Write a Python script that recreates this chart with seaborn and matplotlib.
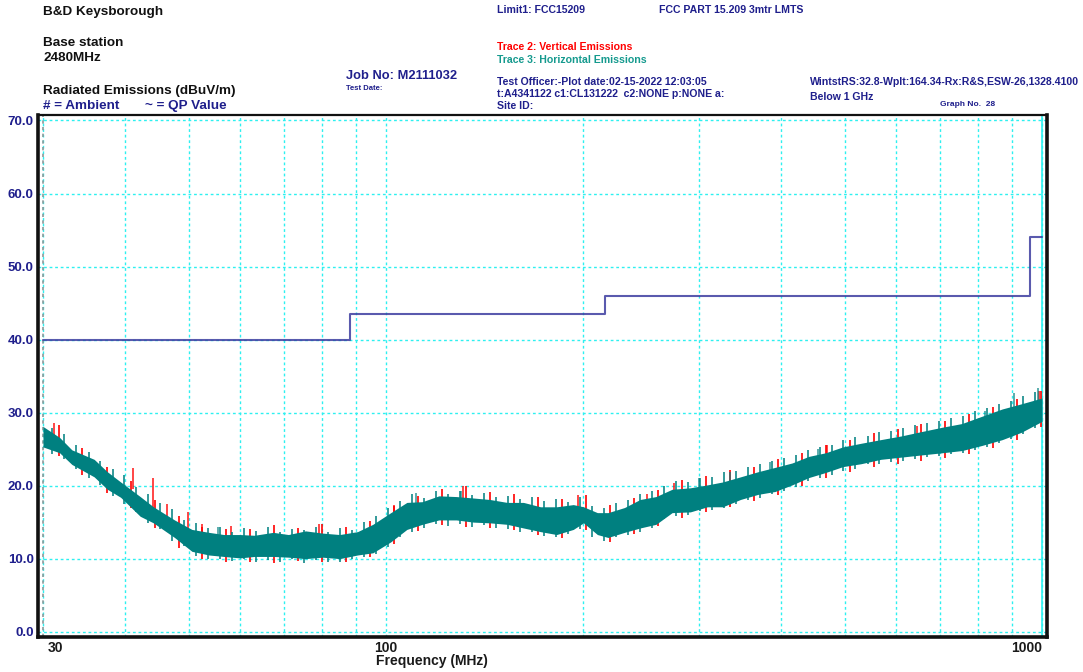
import matplotlib
matplotlib.use("Agg")
import matplotlib.pyplot as plt
import matplotlib.transforms as mtransforms
from matplotlib.ticker import FixedLocator, NullFormatter
import seaborn as sns

# ---------------- data ----------------
freq_mhz = [30, 31.8, 33.2, 35.9, 37.6, 39.4, 42.2, 44.2, 47.6, 50.6,
            53.7, 56.6, 59.9, 63, 67.3, 71, 75.4, 80, 85, 90.5,
            95.5, 101.7, 107.6, 113.6, 120.4, 128, 136, 144, 153, 162,
            172, 182, 193, 200, 210, 218, 231, 244, 258, 273,
            291, 309, 326, 347, 369, 392, 416, 441, 468, 497,
            530, 568, 610, 655, 705, 755, 810, 870, 930, 1000]

# Trace 3: Horizontal emissions (teal) - dense core band, upper / lower edge
horiz_hi = [28.1, 26.6, 24.9, 23.6, 21.9, 20.5, 18.5, 17.1, 15.3, 14.0,
            13.6, 13.3, 13.3, 13.2, 13.6, 13.3, 13.8, 13.5, 13.3, 13.7,
            14.7, 16.3, 17.7, 17.8, 18.6, 18.5, 18.3, 18.1, 17.7, 17.7,
            17.1, 17.1, 17.4, 17.1, 16.3, 16.3, 17.0, 18.1, 18.5, 19.5,
            19.7, 20.1, 20.5, 21.2, 21.9, 22.5, 23.1, 24.0, 24.5, 25.3,
            25.8, 26.3, 26.8, 27.4, 28.0, 28.5, 29.5, 30.5, 31.2, 32.0]
horiz_lo = [25.3, 24.5, 22.9, 21.2, 19.5, 18.4, 15.8, 14.9, 12.9, 11.0,
            10.5, 10.3, 10.1, 10.3, 10.3, 10.2, 10.0, 10.2, 10.0, 10.5,
            10.8, 12.3, 14.0, 14.7, 15.3, 15.3, 15.0, 14.9, 14.7, 14.2,
            13.7, 13.3, 14.0, 14.9, 13.3, 12.9, 13.6, 14.2, 14.7, 16.3,
            16.4, 17.1, 17.1, 18.1, 18.8, 19.2, 20.1, 21.1, 21.8, 22.6,
            23.0, 23.6, 23.9, 24.2, 24.5, 24.8, 25.5, 26.3, 27.3, 28.8]

# Trace 3 noise excursions (frequency, low, high)
horiz_noise_freq = [31, 32.3, 33.7, 35.2, 36.7, 38.3, 39.9, 41.6, 43.4, 45.3,
                    47.2, 49.3, 51.4, 53.6, 55.9, 58.3, 60.8, 63.4, 66.1, 69,
                    72, 75, 78.2, 81.6, 85.1, 88.8, 92.6, 96.6, 100.7, 105,
                    109.5, 114.2, 119.2, 124.3, 129.6, 135.2, 141, 147, 153.4, 160,
                    166.8, 174, 181.5, 189.3, 197.4, 205.9, 214.7, 224, 233.6, 243.6,
                    254.1, 265, 276.4, 288.3, 300.7, 313.6, 327.1, 341.1, 355.8, 371.1,
                    387, 403.7, 421, 439.1, 458, 477.7, 498.2, 519.6, 542, 565.2,
                    589.5, 614.9, 641.3, 668.9, 697.6, 727.6, 758.9, 791.5, 825.5, 861,
                    898, 936.6, 976.9]
horiz_noise_lo = [24.3, 23.6, 22.3, 21.0, 20.1, 18.6, 17.5, 16.4, 14.9, 14.0,
                  12.4, 11.7, 10.4, 9.9, 10.0, 9.7, 9.9, 9.6, 9.8, 9.5,
                  9.9, 9.4, 9.8, 9.6, 9.5, 9.9, 10.2, 10.6, 11.6, 12.9,
                  13.6, 14.2, 14.7, 14.5, 14.8, 14.4, 14.6, 14.2, 14.1, 13.7,
                  13.6, 13.1, 12.9, 13.4, 14.1, 13.0, 12.4, 12.9, 13.3, 13.7,
                  14.2, 15.4, 15.8, 16.0, 16.5, 16.6, 16.9, 17.5, 18.0, 18.3,
                  18.8, 19.3, 19.8, 20.6, 21.0, 21.5, 22.0, 22.3, 22.9, 23.0,
                  23.2, 23.4, 23.7, 23.9, 24.0, 24.3, 24.4, 24.9, 25.3, 25.8,
                  26.4, 27.0, 27.9]
horiz_noise_hi = [27.9, 27.0, 25.6, 24.6, 23.4, 22.3, 21.4, 19.8, 18.9, 17.6,
                  16.8, 15.3, 14.9, 14.2, 14.3, 13.6, 14.2, 13.8, 14.4, 13.7,
                  14.1, 13.9, 14.3, 13.7, 14.2, 13.9, 15.0, 15.8, 16.9, 17.9,
                  18.8, 18.3, 19.2, 18.8, 19.3, 18.7, 19.0, 18.4, 18.6, 18.2,
                  18.5, 17.9, 18.1, 17.8, 18.4, 17.2, 16.9, 17.6, 18.0, 18.8,
                  19.3, 19.9, 20.6, 20.5, 21.0, 21.2, 21.8, 22.0, 22.6, 22.9,
                  23.4, 23.8, 24.2, 24.9, 25.3, 25.5, 26.2, 26.6, 26.8, 27.3,
                  27.5, 27.9, 28.3, 28.6, 28.9, 29.2, 29.6, 30.2, 30.6, 31.2,
                  31.6, 32.3, 32.8]

# Trace 2: Vertical emissions (red) noise excursions (frequency, low, high)
vert_noise_freq = [31.7, 34.4, 37.5, 40.8, 44.4, 48.3, 52.5, 57.1, 62.1, 67.5,
                   73.5, 79.9, 86.9, 94.6, 102.9, 111.9, 121.7, 132.4, 144, 156.6,
                   170.4, 185.4, 201.6, 219.3, 238.6, 259.5, 282.3, 307.1, 334.1, 363.4,
                   395.3, 430, 467.8, 508.9, 553.6, 602.2, 655, 712.5, 775, 843,
                   917, 997]
vert_noise_lo = [24.0, 21.5, 19.0, 16.9, 14.2, 11.5, 10.0, 9.5, 9.6, 9.4,
                 9.7, 9.5, 9.6, 10.2, 12.0, 13.8, 14.6, 14.3, 14.2, 13.9,
                 13.2, 12.8, 13.9, 12.3, 13.4, 14.5, 15.6, 16.4, 17.1, 17.9,
                 18.7, 20.0, 21.0, 21.9, 22.6, 22.9, 23.4, 23.8, 24.3, 25.2,
                 26.3, 28.0]
vert_noise_hi = [28.3, 25.2, 22.6, 20.6, 18.0, 15.9, 14.4, 14.1, 14.0, 14.6,
                 14.2, 14.7, 14.3, 15.2, 17.2, 18.6, 19.5, 19.9, 19.1, 18.8,
                 18.4, 18.2, 18.7, 17.3, 18.3, 19.4, 20.8, 21.3, 22.1, 22.6,
                 23.6, 24.5, 25.5, 26.3, 27.2, 27.7, 28.4, 28.8, 29.8, 30.7,
                 31.9, 33.0]

# isolated spikes visible above the noise band
red_spike_freq = [31.2, 41.2, 44.2, 46.3, 49.9, 52.5, 58, 79, 103, 131, 196, 250, 275, 470, 645, 990]
red_spike_base = [26.5, 19.5, 16.5, 14.5, 13.0, 12.0, 12.0, 12.0, 14.5, 17.0, 16.0, 16.5, 18.0, 23.5, 26.5, 30.5]
red_spike_top = [28.6, 22.4, 21.1, 17.5, 16.4, 14.7, 14.5, 14.7, 17.3, 19.9, 18.7, 18.9, 20.4, 25.5, 28.2, 33.0]

teal_spike_freq = [55.5, 111, 130, 300, 335, 385, 455, 820, 905, 985]
teal_spike_base = [12.0, 16.5, 17.0, 19.0, 19.5, 21.0, 23.0, 28.0, 29.5, 30.5]
teal_spike_top = [14.3, 19.0, 19.3, 21.0, 21.8, 23.2, 25.0, 30.2, 32.7, 33.3]

# Limit1: FCC PART 15.209 3 m limits
limit_freq = [30, 88, 216, 960, 1000]
limit_dbuv = [40.0, 43.5, 46.0, 54.0, 54.0]

x_major = [30, 100, 1000]
x_major_labels = ["30", "100", "1000"]
x_minor = [40, 50, 60, 70, 80, 90, 200, 300, 400, 500, 600, 700, 800, 900]
y_ticks = [0, 10, 20, 30, 40, 50, 60, 70]
y_labels = ["0.0", "10.0", "20.0", "30.0", "40.0", "50.0", "60.0", "70.0"]

# ---------------- style ----------------
sns.set_theme(style="white")
plt.rcParams['font.family'] = ['Liberation Sans', 'DejaVu Sans']
plt.rcParams['font.weight'] = 'bold'

NAVY = '#1f1f8c'
TEAL = '#008080'
RED = '#ff0000'
CYAN = '#2ef0f0'
W, H = 1083, 672

fig = plt.figure(figsize=(W / 100, H / 100), dpi=100)
ax = fig.add_axes([38 / W, 35 / H, 1009 / W, 522 / H])
ax.set_xscale('log')
ax.set_xlim(29.48, 1017.7)
ax.set_ylim(-0.73, 70.75)

# grid
ax.set_axisbelow(True)
ax.xaxis.set_major_locator(FixedLocator(x_major))
ax.xaxis.set_minor_locator(FixedLocator(x_minor))
ax.xaxis.set_minor_formatter(NullFormatter())
ax.set_xticks(x_major)
ax.set_xticklabels(x_major_labels)
ax.set_yticks(y_ticks)
ax.set_yticklabels(y_labels)
ax.grid(which='both', axis='both', color=CYAN, linestyle=(0, (2, 2)), linewidth=1.0)
ax.axvline(30, color='#8a9a9a', linestyle=(0, (2, 2)), linewidth=1.2, zorder=1)
ax.axvline(1000, color=CYAN, linestyle='-', linewidth=1.2, zorder=1)

# traces: red (vertical) under teal (horizontal)
ax.vlines(vert_noise_freq, vert_noise_lo, vert_noise_hi, color=RED, linewidth=1.2, zorder=2)
ax.vlines(red_spike_freq, red_spike_base, red_spike_top, color=RED, linewidth=1.2, alpha=0.85, zorder=2)
ax.fill_between(freq_mhz, horiz_lo, horiz_hi, color=TEAL, linewidth=0, zorder=3)
ax.vlines(horiz_noise_freq, horiz_noise_lo, horiz_noise_hi, color=TEAL, linewidth=1.4, alpha=0.8, zorder=3)
ax.vlines(teal_spike_freq, teal_spike_base, teal_spike_top, color=TEAL, linewidth=1.2, alpha=0.75, zorder=3)

# limit line
sns.lineplot(x=limit_freq, y=limit_dbuv, drawstyle='steps-post', color='#3d3da0',
             linewidth=1.5, alpha=0.85, ax=ax, legend=False, zorder=4)

# axes frame
for side, lw in [('left', 2.6), ('bottom', 2.6), ('top', 1.6), ('right', 2.6)]:
    ax.spines[side].set_visible(True)
    ax.spines[side].set_color('#111111')
    ax.spines[side].set_linewidth(lw)

ax.tick_params(axis='both', which='both', length=0)
ax.tick_params(axis='y', labelsize=9.5, labelcolor=NAVY, pad=3)
ax.tick_params(axis='x', labelsize=10, labelcolor='#1a1a1a', pad=3)
for lab in ax.get_yticklabels() + ax.get_xticklabels():
    lab.set_fontweight('bold')
xl = ax.get_xticklabels()
xl[0].set_horizontalalignment('left')
xl[0].set_transform(xl[0].get_transform() + mtransforms.ScaledTranslation(5 / 100, 0, fig.dpi_scale_trans))
xl[-1].set_horizontalalignment('right')
ax.set_xlabel('')
ax.set_ylabel('')


def t(x, y, s, color=NAVY, size=7.6):
    fig.text(x / W, 1 - y / H, s, color=color, fontsize=size, fontweight='bold',
             ha='left', va='center')


t(43, 12, "B&D Keysborough", '#111111', 9.7)
t(43, 43, "Base station", '#111111', 9.7)
t(43, 58, "2480MHz", '#111111', 9.7)
t(43, 91, "Radiated Emissions (dBuV/m)", '#111111', 9.7)
t(43, 106, "# = Ambient", NAVY, 9.7)
t(145, 106, "~ = QP Value", NAVY, 9.7)
t(346, 76, "Job No: M2111032", NAVY, 9.3)
t(346, 88, "Test Date:", NAVY, 5.5)
t(497, 10, "Limit1: FCC15209")
t(659, 10, "FCC PART 15.209 3mtr LMTS")
t(497, 47, "Trace 2: Vertical Emissions", RED)
t(497, 60, "Trace 3: Horizontal Emissions", '#159a8e')
t(497, 82, "Test Officer:-Plot date:02-15-2022 12:03:05")
t(497, 94, "t:A4341122 c1:CL131222  c2:NONE p:NONE a:")
t(497, 106, "Site ID:")
t(810, 82, "WintstRS:32.8-Wplt:164.34-Rx:R&S,ESW-26,1328.4100")
t(810, 97, "Below 1 GHz")
t(940, 104, "Graph No.  28", NAVY, 6)
fig.text(432 / W, 1 - 661 / H, "Frequency (MHz)", color='#1a1a1a', fontsize=10,
         fontweight='bold', ha='center', va='center')

fig.savefig("out.png", dpi=100, facecolor='white')
